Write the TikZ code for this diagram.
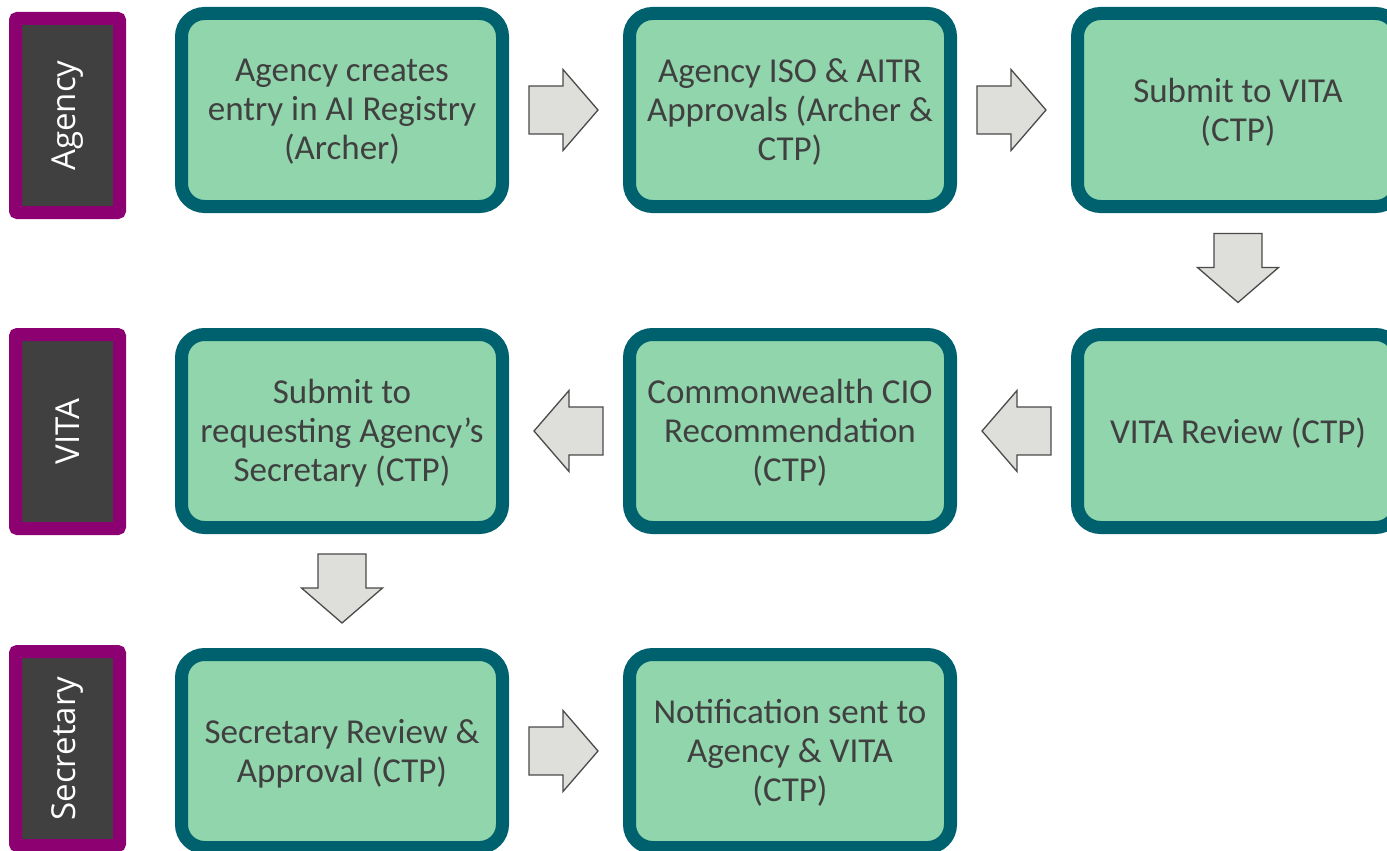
\documentclass[tikz,border=0pt]{standalone}
\usepackage{fontspec}
\setmainfont{Carlito}
\newfontfamily\lanefont{Open Sans}
\usetikzlibrary{calc}
\definecolor{lanepurple}{HTML}{8C0072}
\definecolor{lanedark}{HTML}{404040}
\definecolor{stepfill}{HTML}{90D5AC}
\definecolor{stepedge}{HTML}{00616E}
\definecolor{steptext}{HTML}{404040}
\definecolor{arrowfill}{HTML}{DEDFDB}
\definecolor{arrowedge}{HTML}{4A4A4A}
\begin{document}
\begin{tikzpicture}[x=1pt,y=-1pt,
  lane/.style={draw=lanepurple, fill=lanedark, line width=13pt, rounded corners=2pt,
    minimum width=194pt, minimum height=104pt, inner sep=0pt, text=white,
    font=\lanefont\fontsize{33}{38}\selectfont, rotate=90},
  stepbox/.style={draw=stepedge, fill=stepfill, line width=13pt, rounded corners=23pt,
    minimum width=321pt, minimum height=193pt, inner sep=0pt, align=center,
    text=steptext, text depth=1pt, font=\fontsize{35}{39}\selectfont},
  flow/.style={draw=arrowedge, fill=arrowfill, line width=1.3pt, line join=miter},
  flowarrow/.pic={\path[flow] (-37,-24) -- (-3,-24) -- (-3,-40.5) -- (32,0)
    -- (-3,40.5) -- (-3,24) -- (-37,24) -- cycle;}
]
\useasboundingbox (0,0) rectangle (1387,851);
\clip (0,0) rectangle (1387,851);

% swim-lane labels
\node[lane] (laneA) at (67.5,115.5) {Agency};
\node[lane] (laneV) at (67.5,431.5) {VITA};
\node[lane] (laneS) at (67.5,748.5) {Secretary};

% process steps
\node[stepbox] (s1) at (342,110) {Agency creates\\entry in AI Registry\\(Archer)};
\node[stepbox] (s2) at (790,110) {Agency ISO \& AITR\\Approvals (Archer \&\\CTP)};
\node[stepbox] (s3) at (1238,110) {Submit to VITA\\(CTP)};
\node[stepbox] (s4) at (1238,431) {VITA Review (CTP)};
\node[stepbox] (s5) at (790,431) {Commonwealth CIO\\Recommendation\\(CTP)};
\node[stepbox] (s6) at (342,431) {Submit to\\requesting Agency’s\\Secretary (CTP)};
\node[stepbox] (s7) at (342,751) {Secretary Review \&\\Approval (CTP)};
\node[stepbox] (s8) at (790,751) {Notification sent to\\Agency \& VITA\\(CTP)};

% block arrows between steps
\pic at ($(s1.east)!0.5!(s2.west)$) {flowarrow};
\pic at ($(s2.east)!0.5!(s3.west)$) {flowarrow};
\pic[rotate=-90] at ($(s3.south)!0.5!(s4.north)$) {flowarrow};
\pic[rotate=180] at ($(s4.west)!0.5!(s5.east)$) {flowarrow};
\pic[rotate=180] at ($(s5.west)!0.5!(s6.east)$) {flowarrow};
\pic[rotate=-90] at ($(s6.south)!0.5!(s7.north)$) {flowarrow};
\pic at ($(s7.east)!0.5!(s8.west)$) {flowarrow};
\end{tikzpicture}
\end{document}
